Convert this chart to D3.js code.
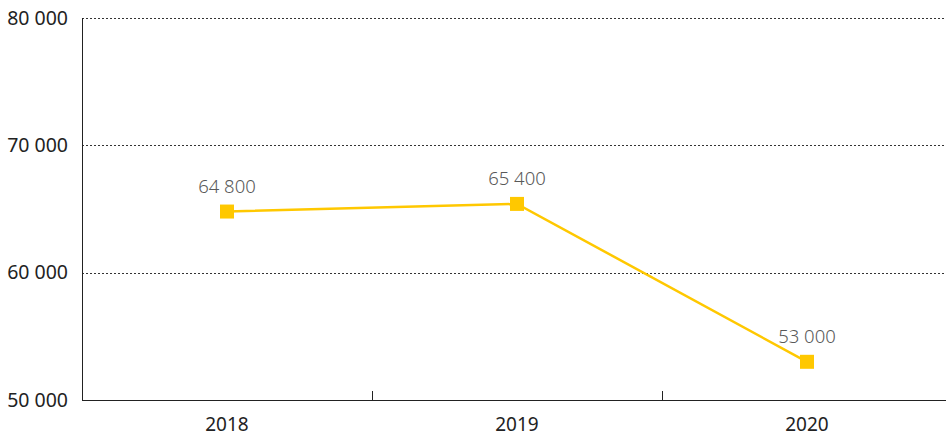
<!DOCTYPE html>
<html><head><meta charset="utf-8">
<script src="https://cdn.jsdelivr.net/npm/d3@7"></script>
<style>body{margin:0;background:#fff}svg{display:block}</style>
</head><body>
<svg id="c" width="946" height="437"></svg>
<script>
const categories = ["2018", "2019", "2020"];
const values = [64800, 65400, 53000];
const valueLabels = ["64 800", "65 400", "53 000"];
const yTicks = [50000, 60000, 70000, 80000];
const yTickLabels = ["50 000", "60 000", "70 000", "80 000"];

(function () {
const svg = d3.select("#c");
const mLeft = 82, mTop = 18, mBottom = 400;
const x = d3.scaleBand().domain(categories).range([mLeft, mLeft + 870]);
const y = d3.scaleLinear().domain([50000, 80000]).range([mBottom, mTop]);
const font = "'Source Sans Pro','Noto Sans',sans-serif";

// gridlines
svg.append("g").selectAll("line").data(yTicks.slice(1)).join("line")
  .attr("x1", mLeft).attr("x2", 946)
  .attr("y1", d => Math.round(y(d)) + 0.5).attr("y2", d => Math.round(y(d)) + 0.5)
  .attr("stroke", "#333").attr("stroke-width", 1).attr("stroke-dasharray", "2,2");

// y labels
svg.append("g").selectAll("text").data(yTicks).join("text")
  .attr("x", 68).attr("y", d => y(d)).attr("dy", "0.35em")
  .attr("text-anchor", "end").attr("font-family", font).attr("font-size", 19.5)
  .attr("fill", "#222").text((d, i) => yTickLabels[i]);

// axes lines
svg.append("line").attr("x1", mLeft + 0.5).attr("x2", mLeft + 0.5).attr("y1", mTop).attr("y2", mBottom)
  .attr("stroke", "#222").attr("stroke-width", 1);
svg.append("line").attr("x1", mLeft).attr("x2", 946).attr("y1", mBottom + 0.5).attr("y2", mBottom + 0.5)
  .attr("stroke", "#222").attr("stroke-width", 1);
// band boundary ticks
svg.append("g").selectAll("line").data(categories.slice(1)).join("line")
  .attr("x1", d => Math.round(x(d)) + 0.5).attr("x2", d => Math.round(x(d)) + 0.5)
  .attr("y1", mBottom - 9).attr("y2", mBottom)
  .attr("stroke", "#222").attr("stroke-width", 1);

// x labels
svg.append("g").selectAll("text").data(categories).join("text")
  .attr("x", d => x(d) + x.bandwidth() / 2).attr("y", 431)
  .attr("text-anchor", "middle").attr("font-family", font).attr("font-size", 19)
  .attr("fill", "#222").text(d => d);

const cx = (d, i) => x(categories[i]) + x.bandwidth() / 2;
// line
svg.append("path")
  .attr("d", d3.line().x((d, i) => cx(d, i)).y(d => y(d))(values))
  .attr("fill", "none").attr("stroke", "#FFC800").attr("stroke-width", 2.5);

// markers
svg.append("g").selectAll("rect").data(values).join("rect")
  .attr("x", (d, i) => cx(d, i) - 7).attr("y", d => y(d) - 7)
  .attr("width", 14).attr("height", 14).attr("fill", "#FFC800");

// value labels
svg.append("g").selectAll("text").data(values).join("text")
  .attr("x", (d, i) => cx(d, i)).attr("y", d => y(d) - 19)
  .attr("text-anchor", "middle").attr("font-family", font).attr("font-size", 18.5)
  .attr("font-weight", 300)
  .attr("fill", "#595959").text((d, i) => valueLabels[i]);
})();
</script>
</body></html>
